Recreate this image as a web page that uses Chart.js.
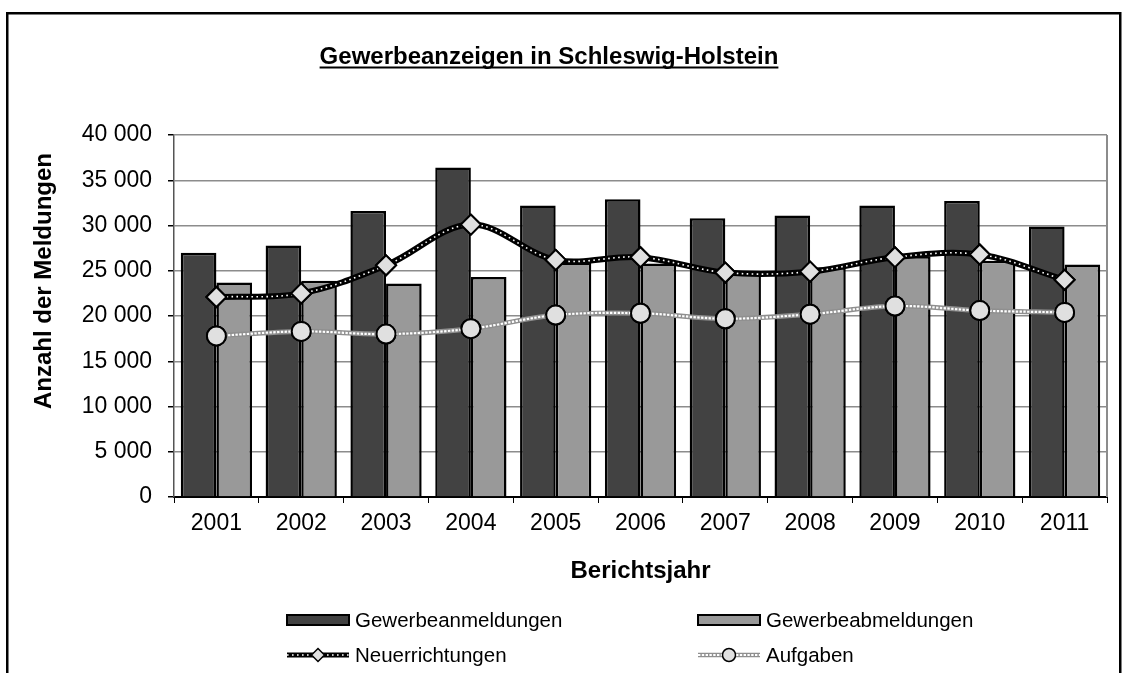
<!DOCTYPE html>
<html>
<head>
<meta charset="utf-8">
<script src="https://cdn.jsdelivr.net/npm/chart.js@4.4.0/dist/chart.umd.min.js"></script>
<style>
html, body { margin: 0; padding: 0; background: #fff; }
</style>
</head>
<body>
<canvas id="gewerbeChart" width="1127" height="673"></canvas>
<script>
// data
const years = ['2001', '2002', '2003', '2004', '2005', '2006', '2007', '2008', '2009', '2010', '2011'];
const anmeldungen = [27000, 27800, 31600, 36400, 32200, 32900, 30800, 31100, 32200, 32700, 29900];
const abmeldungen = [23700, 23900, 23600, 24300, 25900, 25800, 24700, 25400, 26600, 26100, 25700];
const neuerrichtungen = [22100, 22500, 25600, 30100, 26200, 26500, 24800, 24900, 26500, 26800, 24000];
const aufgaben = [17800, 18300, 18000, 18600, 20100, 20300, 19700, 20200, 21100, 20600, 20400];
const yTicks = [0, 5000, 10000, 15000, 20000, 25000, 30000, 35000, 40000];

const FONT = '"Liberation Sans", Arial, Helvetica, sans-serif';
const DARK = '#424242';
const LIGHT = '#999999';
const MARKER = '#e0e0e0';

function fmt(v) {
    return String(v).replace(/\B(?=(\d{3})+(?!\d))/g, ' ');
}

// inner pattern stroked on top of the line datasets
const lineOverlay = {
    'Neuerrichtungen': { color: '#ffffff', width: 1.6, dash: [1.6, 3.4] },
    'Aufgaben': { color: '#ffffff', width: 2.2, dash: [2.4, 1.4] }
};

const overlayPlugin = {
    id: 'overlay',
    afterDatasetDraw(chart, args) {
        const ds = chart.data.datasets[args.index];
        const st = lineOverlay[ds.label];
        if (!st) return;
        const ctx = chart.ctx;
        ctx.save();
        ctx.beginPath();
        args.meta.dataset.path(ctx);
        ctx.strokeStyle = st.color;
        ctx.lineWidth = st.width;
        ctx.setLineDash(st.dash);
        ctx.stroke();
        ctx.restore();
        // points back on top of the pattern
        args.meta.data.forEach(p => p.draw(ctx, chart.chartArea));
    }
};

function drawMarker(ctx, style, x, y, r) {
    ctx.beginPath();
    if (style === 'rectRot') {
        ctx.moveTo(x - r, y);
        ctx.lineTo(x, y - r);
        ctx.lineTo(x + r, y);
        ctx.lineTo(x, y + r);
        ctx.closePath();
    } else {
        ctx.arc(x, y, r, 0, Math.PI * 2);
    }
    ctx.fillStyle = MARKER;
    ctx.fill();
    ctx.lineWidth = 1.5;
    ctx.strokeStyle = '#000';
    ctx.stroke();
}

const legendItems = [
    { label: 'Gewerbeanmeldungen', kind: 'bar', color: DARK, x: 287, y: 620 },
    { label: 'Gewerbeabmeldungen', kind: 'bar', color: LIGHT, x: 698, y: 620 },
    { label: 'Neuerrichtungen', kind: 'line', base: '#000', baseWidth: 5, marker: 'rectRot', x: 287, y: 655 },
    { label: 'Aufgaben', kind: 'line', base: '#8f8f8f', baseWidth: 4.5, marker: 'circle', x: 698, y: 655 }
];

const decorPlugin = {
    id: 'decor',
    beforeDraw(chart) {
        const ctx = chart.ctx;
        ctx.save();
        ctx.fillStyle = '#fff';
        ctx.fillRect(0, 0, chart.width, chart.height);
        ctx.strokeStyle = '#000';
        ctx.lineWidth = 2.5;
        ctx.strokeRect(7.25, 13.25, 1113, 700);
        ctx.restore();
    },
    beforeDatasetsDraw(chart) {
        const { right, top, bottom } = chart.chartArea;
        const ctx = chart.ctx;
        ctx.save();
        ctx.strokeStyle = '#8c8c8c';
        ctx.lineWidth = 2;
        ctx.beginPath();
        ctx.moveTo(right, top);
        ctx.lineTo(right, bottom);
        ctx.stroke();
        ctx.restore();
    },
    afterDraw(chart) {
        const ctx = chart.ctx;
        ctx.save();
        ctx.fillStyle = '#000';

        // title, underlined
        const title = 'Gewerbeanzeigen in Schleswig-Holstein';
        ctx.font = 'bold 24px ' + FONT;
        ctx.textAlign = 'center';
        ctx.textBaseline = 'alphabetic';
        ctx.fillText(title, 549, 64);
        const w = ctx.measureText(title).width;
        ctx.fillRect(549 - w / 2, 66.5, w, 2);

        // y axis title
        ctx.save();
        ctx.translate(44, 281);
        ctx.rotate(-Math.PI / 2);
        ctx.textBaseline = 'middle';
        ctx.fillText('Anzahl der Meldungen', 0, 0);
        ctx.restore();

        // legend
        ctx.font = '20.5px ' + FONT;
        ctx.textAlign = 'left';
        ctx.textBaseline = 'middle';
        legendItems.forEach(it => {
            const sw = 62;
            if (it.kind === 'bar') {
                ctx.fillStyle = it.color;
                ctx.fillRect(it.x, it.y - 5, sw, 10);
                ctx.lineWidth = 2;
                ctx.strokeStyle = '#000';
                ctx.strokeRect(it.x, it.y - 5, sw, 10);
            } else {
                const st = lineOverlay[it.label];
                ctx.beginPath();
                ctx.moveTo(it.x, it.y);
                ctx.lineTo(it.x + sw, it.y);
                ctx.strokeStyle = it.base;
                ctx.lineWidth = it.baseWidth;
                ctx.stroke();
                ctx.save();
                ctx.setLineDash(st.dash);
                ctx.strokeStyle = st.color;
                ctx.lineWidth = st.width * 0.8;
                ctx.stroke();
                ctx.restore();
                drawMarker(ctx, it.marker, it.x + sw / 2, it.y, 6.5);
            }
            ctx.fillStyle = '#000';
            ctx.fillText(it.label, it.x + sw + 6, it.y + 1);
        });
        ctx.restore();
    }
};

const ctx = document.getElementById('gewerbeChart').getContext('2d');

const data = {
    labels: years,
    datasets: [{
        type: 'line',
        label: 'Neuerrichtungen',
        data: neuerrichtungen,
        borderColor: '#000',
        borderWidth: 6,
        tension: 0.35,
        pointStyle: 'rectRot',
        pointRadius: 10,
        pointBackgroundColor: MARKER,
        pointBorderColor: '#000',
        pointBorderWidth: 2,
        order: 0
    }, {
        type: 'line',
        label: 'Aufgaben',
        data: aufgaben,
        borderColor: '#8f8f8f',
        borderWidth: 5,
        tension: 0.35,
        pointStyle: 'circle',
        pointRadius: 9.5,
        pointBackgroundColor: MARKER,
        pointBorderColor: '#000',
        pointBorderWidth: 2,
        order: 1
    }, {
        type: 'bar',
        label: 'Gewerbeanmeldungen',
        data: anmeldungen,
        backgroundColor: DARK,
        borderColor: '#000',
        borderWidth: 2.5,
        categoryPercentage: 0.84,
        barPercentage: 1.0,
        order: 2
    }, {
        type: 'bar',
        label: 'Gewerbeabmeldungen',
        data: abmeldungen,
        backgroundColor: LIGHT,
        borderColor: '#000',
        borderWidth: 2.5,
        categoryPercentage: 0.84,
        barPercentage: 1.0,
        order: 3
    }]
};

const config = {
    type: 'bar',
    data: data,
    options: {
        responsive: false,
        animation: false,
        layout: {
            padding: { left: 0, right: 20, top: 135, bottom: 76 }
        },
        plugins: {
            legend: { display: false },
            title: { display: false },
            tooltip: { enabled: false }
        },
        scales: {
            x: {
                grid: {
                    offset: true,
                    drawOnChartArea: false,
                    drawTicks: true,
                    tickLength: 6,
                    tickColor: '#000'
                },
                border: { color: '#000', width: 2 },
                ticks: {
                    color: '#000',
                    padding: 7,
                    font: { family: FONT, size: 23 }
                },
                title: {
                    display: true,
                    text: 'Berichtsjahr',
                    color: '#000',
                    font: { family: FONT, size: 24, weight: 'bold' },
                    padding: { top: 0, bottom: 11 }
                },
                afterFit(scale) { scale.height = 100; }
            },
            y: {
                min: 0,
                max: 40000,
                afterBuildTicks(scale) {
                    scale.ticks = yTicks.map(v => ({ value: v }));
                },
                grid: {
                    color: '#8c8c8c',
                    lineWidth: 1.5,
                    tickLength: 6,
                    tickColor: '#000'
                },
                border: { color: '#555', width: 1.5 },
                ticks: {
                    color: '#000',
                    padding: 16,
                    font: { family: FONT, size: 23 },
                    callback: v => fmt(v)
                },
                afterFit(scale) { scale.width = 174; }
            }
        }
    },
    plugins: [overlayPlugin, decorPlugin]
};

const gewerbeChart = new Chart(ctx, config);
</script>
</body>
</html>
